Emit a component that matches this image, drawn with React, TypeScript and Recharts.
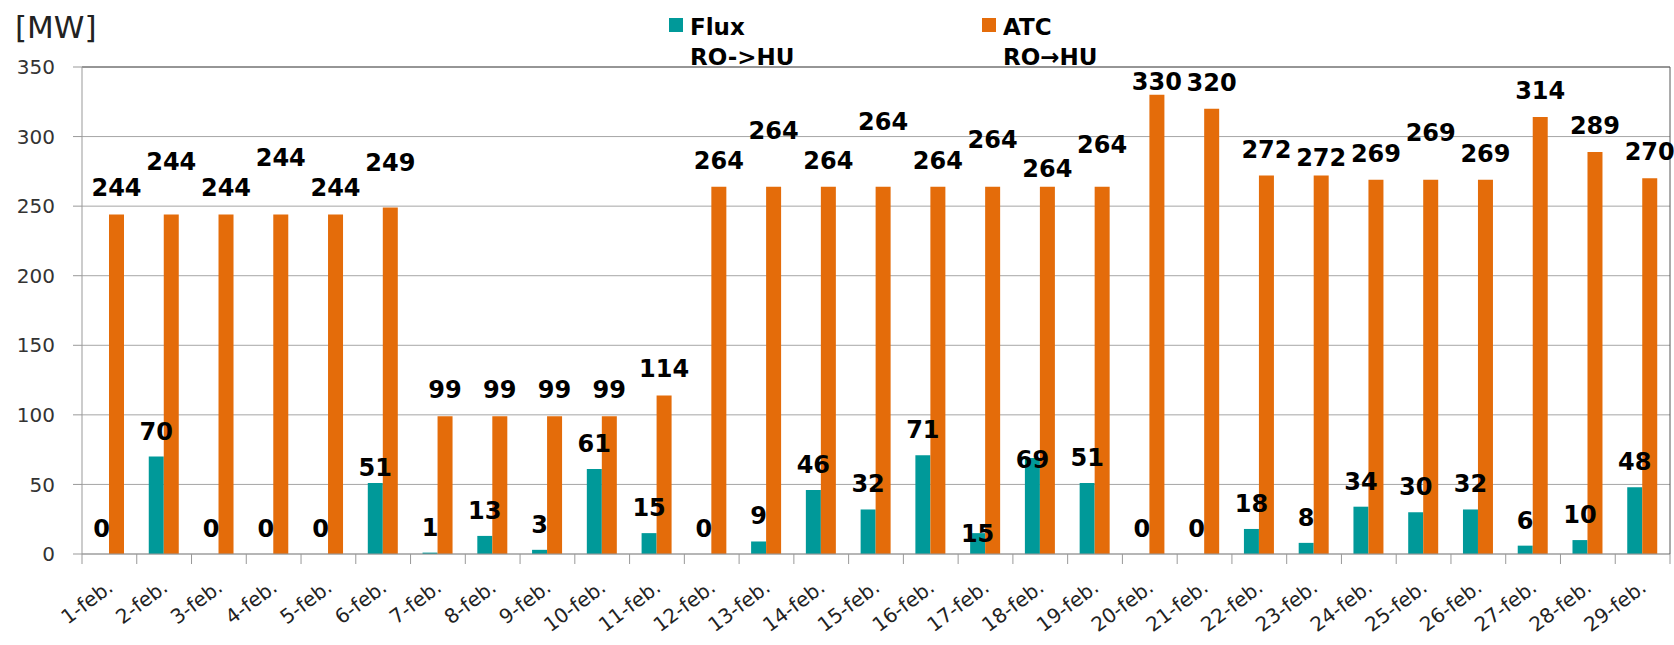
import { BarChart, Bar, XAxis, YAxis, CartesianGrid, ReferenceLine, LabelList } from 'recharts';

const days = [
  '1-feb.', '2-feb.', '3-feb.', '4-feb.', '5-feb.', '6-feb.', '7-feb.', '8-feb.', '9-feb.', '10-feb.',
  '11-feb.', '12-feb.', '13-feb.', '14-feb.', '15-feb.', '16-feb.', '17-feb.', '18-feb.', '19-feb.', '20-feb.',
  '21-feb.', '22-feb.', '23-feb.', '24-feb.', '25-feb.', '26-feb.', '27-feb.', '28-feb.', '29-feb.',
];

const flux = [0, 70, 0, 0, 0, 51, 1, 13, 3, 61, 15, 0, 9, 46, 32, 71, 15, 69, 51, 0, 0, 18, 8, 34, 30, 32, 6, 10, 48];

const atc = [
  244, 244, 244, 244, 244, 249, 99, 99, 99, 99, 114, 264, 264, 264, 264, 264, 264, 264, 264, 330,
  320, 272, 272, 269, 269, 269, 314, 289, 270,
];

const yTicks = [0, 50, 100, 150, 200, 250, 300, 350];

// how far above the bar top each value label sits (the original staggers them)
const fluxLift: Record<number, number> = { 5: 16, 16: 0, 17: -1 };
const atcLift: Record<number, number> = { 1: 53, 3: 57, 5: 46, 12: 57, 14: 66, 16: 48, 17: 19, 18: 43, 19: 14, 22: 19, 24: 48 };

const W = 1674;
const H = 645;
const PLOT_LEFT = 82;
const PLOT_RIGHT = 1670;
const PLOT_TOP = 67;
const X_AXIS_H = 91;
const PLOT_BOTTOM = H - X_AXIS_H;
const BAND = (PLOT_RIGHT - PLOT_LEFT) / days.length;

const TEAL = '#009999';
const ORANGE = '#E46C0A';
const FONT = '"DejaVu Sans", Verdana, sans-serif';

const data = days.map((day, i) => ({ day, flux: flux[i], atc: atc[i] }));

const valueText = (x: number, y: number, v: number) => (
  <text x={x} y={y + 9} textAnchor="middle" fontFamily={FONT} fontWeight="bold" fontSize={24} fill="#000">
    {v}
  </text>
);

// both labels come from the ATC bar geometry, so zero-height flux bars still get their "0"
const PairLabels = (props: any) => {
  const x = Number(props.x);
  const y = Number(props.y);
  const width = Number(props.width);
  const height = Number(props.height);
  const i = props.index;
  const base = y + height;
  const fluxTop = base - (height * flux[i]) / atc[i];
  return (
    <g>
      {valueText(x - width / 2, fluxTop - (fluxLift[i] ?? 26), flux[i])}
      {valueText(x + width / 2, y - (atcLift[i] ?? 27), atc[i])}
    </g>
  );
};

const DayTick = (props: any) => {
  const { x, payload, index } = props;
  const left = x - BAND / 2;
  return (
    <g>
      <line x1={left} x2={left} y1={PLOT_BOTTOM} y2={PLOT_BOTTOM + 10} stroke="#999" />
      {index === days.length - 1 && (
        <line x1={x + BAND / 2} x2={x + BAND / 2} y1={PLOT_BOTTOM} y2={PLOT_BOTTOM + 10} stroke="#999" />
      )}
      <text
        transform={`translate(${x + 5},${PLOT_BOTTOM + 36}) rotate(-37)`}
        textAnchor="end"
        fontFamily={FONT}
        fontSize={20}
        fill="#222"
      >
        {payload.value}
      </text>
    </g>
  );
};

export default function App() {
  return (
    <div style={{ position: 'absolute', left: 0, top: 0, width: W, height: H, background: '#fff' }}>
      <BarChart
        width={W}
        height={H}
        data={data}
        margin={{ top: PLOT_TOP, right: W - PLOT_RIGHT - 1, bottom: 0, left: 0 }}
        barGap={0}
        barSize={15}
      >
        <CartesianGrid vertical={false} stroke="#a6a6a6" />
        <XAxis
          dataKey="day"
          height={X_AXIS_H}
          interval={0}
          tickLine={false}
          axisLine={{ stroke: '#999' }}
          tick={<DayTick />}
        />
        <YAxis
          width={PLOT_LEFT}
          domain={[0, 350]}
          ticks={yTicks}
          interval={0}
          tickSize={9}
          tickMargin={18}
          axisLine={{ stroke: '#999' }}
          tickLine={{ stroke: '#999' }}
          tick={{ fontFamily: FONT, fontSize: 20, fill: '#333' }}
        />
        <YAxis
          yAxisId="right"
          orientation="right"
          width={1}
          domain={[0, 350]}
          tick={false}
          tickLine={false}
          axisLine={{ stroke: '#595959' }}
        />
        <ReferenceLine y={350} stroke="#595959" />
        <Bar dataKey="flux" fill={TEAL} isAnimationActive={false} />
        <Bar dataKey="atc" fill={ORANGE} isAnimationActive={false}>
          <LabelList dataKey="atc" content={<PairLabels />} />
        </Bar>
      </BarChart>

      <svg
        width={W}
        height={H}
        style={{ position: 'absolute', left: 0, top: 0, pointerEvents: 'none' }}
        fontFamily={FONT}
      >
        <text x={15} y={38} fontSize={31} fill="#222">[MW]</text>

        <rect x={669} y={18} width={14} height={14} fill={TEAL} />
        <text x={690} y={35} fontSize={23} fontWeight="bold" fill="#000">Flux</text>
        <text x={690} y={65} fontSize={23} fontWeight="bold" fill="#000">RO-&gt;HU</text>

        <rect x={982} y={18} width={14} height={14} fill={ORANGE} />
        <text x={1003} y={35} fontSize={23} fontWeight="bold" fill="#000">ATC</text>
        <text x={1003} y={65} fontSize={23} fontWeight="bold" fill="#000">RO→HU</text>
      </svg>
    </div>
  );
}
